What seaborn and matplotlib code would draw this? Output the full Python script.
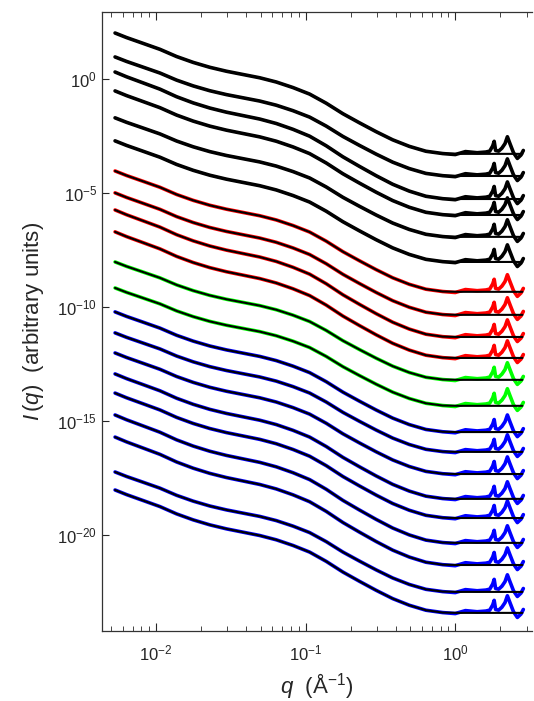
import numpy as np
import pandas as pd
import matplotlib
matplotlib.use("Agg")
import matplotlib.pyplot as plt
import seaborn as sns

q_fit = [0.00533, 0.00637, 0.00824, 0.01064, 0.01374, 0.01774, 0.02291, 0.02958,
         0.03819, 0.04932, 0.06368, 0.08241, 0.1064, 0.1374, 0.1774, 0.2291,
         0.2958, 0.3819, 0.4932, 0.6368, 0.8241, 1.064, 2.81]
drop_fit = [0.0, 0.205, 0.468, 0.731, 1.053, 1.316, 1.535, 1.711,
            1.857, 2.003, 2.193, 2.442, 2.734, 3.143, 3.611, 4.020,
            4.415, 4.781, 5.073, 5.292, 5.395, 5.409, 5.409]

# zona ad alto q dei dati: scarto (decadi) rispetto al livello piatto del fit
q_peaks = [1.0, 1.17, 1.4, 1.6, 1.7, 1.78, 1.82, 1.86, 1.95, 2.05,
           2.15, 2.23, 2.32, 2.45, 2.6, 2.75, 2.85]
off_peaks = [-0.03, 0.10, 0.05, 0.08, 0.12, 0.35, 0.55, 0.15, 0.12, 0.25,
             0.45, 0.75, 0.45, 0.05, -0.20, -0.05, 0.15]

# log10 I all'inizio (q ~ 0.0053) e livello piatto (q > 1) di ogni curva
log_start = [2.00, 0.95, 0.29, -0.54, -1.72, -2.73,
             -4.05, -5.01, -5.76, -6.72,
             -8.04, -9.18,
             -10.23, -11.15, -12.03, -12.95, -13.79, -14.75, -15.72, -17.25, -18.04]
log_flat = [-3.30, -4.27, -5.28, -5.98, -6.94, -8.04,
            -9.35, -10.36, -11.33, -12.25,
            -13.21, -14.35,
            -15.50, -16.37, -17.34, -18.43, -19.27, -20.36, -21.33, -22.51, -23.43]
gruppi = ["k"] * 6 + ["r"] * 4 + ["g"] * 2 + ["b"] * 9
cores = {"k": "black", "r": "#ff0000", "g": "#00ff00", "b": "#0000ff"}


def monta_df():
      fit_rows, dat_rows = [], []
      drop_tot = drop_fit[-1]
      for i, (s, f) in enumerate(zip(log_start, log_flat)):
            fit_log = [s - (s - f) * d / drop_tot for d in drop_fit]
            for q, v in zip(q_fit, fit_log):
                  fit_rows.append({"q": q, "I": 10 ** v, "curva": i})
            for q, v in zip(q_fit[:-2], fit_log[:-2]):
                  if q < 0.95:
                        dat_rows.append({"q": q, "I": 10 ** v, "curva": i})
            for q, o in zip(q_peaks, off_peaks):
                  dat_rows.append({"q": q, "I": 10 ** (f + o), "curva": i})
      return pd.DataFrame(fit_rows), pd.DataFrame(dat_rows)


sns.set_style("ticks")
plt.rcParams["font.family"] = ["Liberation Sans", "DejaVu Sans"]
plt.rcParams["mathtext.fontset"] = "custom"
plt.rcParams["mathtext.rm"] = "Liberation Sans"
plt.rcParams["mathtext.it"] = "Liberation Sans:italic"

df_fit, df_dat = monta_df()
paleta = {i: cores[g] for i, g in enumerate(gruppi)}

fig = plt.figure(figsize=(5.34, 7.01), dpi=100)
ax = fig.add_axes([0.191, 0.100, 0.805, 0.883])

sns.lineplot(data=df_dat, x="q", y="I", hue="curva", palette=paleta,
             estimator=None, sort=False, lw=2.6, legend=False, ax=ax)
sns.lineplot(data=df_fit, x="q", y="I", units="curva", color="black",
             estimator=None, sort=False, lw=1.5, legend=False, ax=ax)

ax.set(xscale="log", yscale="log")
ax.set_xlim(0.00436, 3.25)
ax.set_ylim(10 ** -24.22, 10 ** 2.925)
ax.set_yticks([1e0, 1e-5, 1e-10, 1e-15, 1e-20])
ax.yaxis.set_minor_locator(matplotlib.ticker.NullLocator())
ax.tick_params(axis="x", which="both", direction="in", top=True, labelsize=12, pad=9)
ax.tick_params(axis="x", which="major", length=6)
ax.tick_params(axis="x", which="minor", length=3.5)
ax.tick_params(axis="y", which="major", direction="in", length=5, labelsize=12)
ax.spines["right"].set_visible(False)
for sp in ax.spines.values():
      sp.set_linewidth(0.9)
      sp.set_color("#333333")

ax.set_xlabel(r"$q$  (Å$^{-1}$)", fontsize=16, labelpad=6)
ax.set_ylabel(r"$I\,(q)$  (arbitrary units)", fontsize=16, labelpad=8)

fig.savefig("out.png", dpi=100)
